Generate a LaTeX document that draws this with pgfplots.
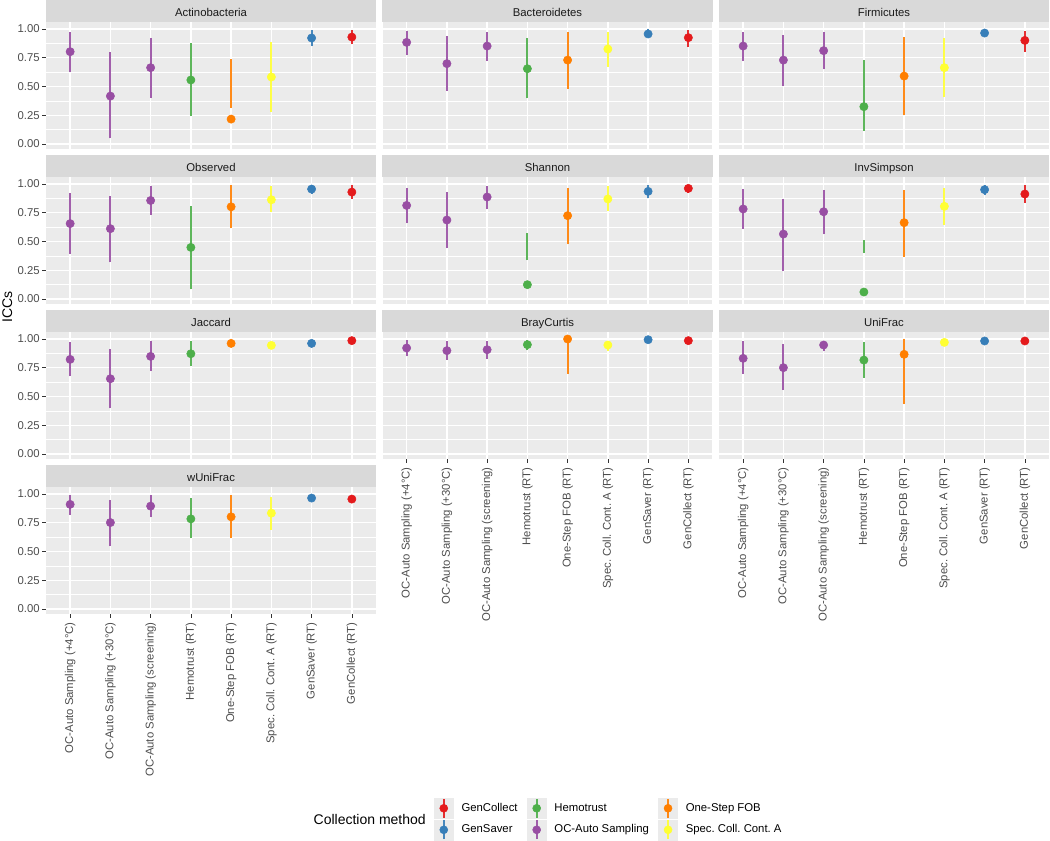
\documentclass[border=0pt]{standalone}
\usepackage{pgfplots}
\usepackage{pgfplotstable}
\pgfplotsset{compat=1.18}
\usepackage{fontspec}
\setmainfont{Liberation Sans}
\frenchspacing

\definecolor{ggbg}{HTML}{EBEBEB}
\definecolor{gg85}{HTML}{D9D9D9}
\definecolor{gg10}{HTML}{1A1A1A}
\definecolor{gg20}{HTML}{333333}
\definecolor{gg30}{HTML}{4D4D4D}
\definecolor{c1}{HTML}{984EA3}
\definecolor{c2}{HTML}{984EA3}
\definecolor{c3}{HTML}{984EA3}
\definecolor{c4}{HTML}{4DAF4A}
\definecolor{c5}{HTML}{FF7F00}
\definecolor{c6}{HTML}{FFFF33}
\definecolor{c7}{HTML}{377EB8}
\definecolor{c8}{HTML}{E41A1C}

% columns: x y lo hi
\pgfplotstableread{
x y lo hi
1 0.803 0.629 0.971
2 0.417 0.049 0.797
3 0.664 0.403 0.919
4 0.557 0.243 0.875
5 0.217 0.316 0.736
6 0.583 0.281 0.890
7 0.922 0.852 0.991
8 0.930 0.867 0.991
}\tActino
\pgfplotstableread{
x y lo hi
1 0.884 0.771 0.986
2 0.699 0.464 0.939
3 0.852 0.722 0.977
4 0.655 0.397 0.919
5 0.730 0.478 0.971
6 0.826 0.672 0.971
7 0.957 0.933 1.000
8 0.925 0.846 0.991
}\tBactero
\pgfplotstableread{
x y lo hi
1 0.852 0.722 0.977
2 0.730 0.501 0.948
3 0.812 0.649 0.971
4 0.325 0.116 0.728
5 0.591 0.252 0.930
6 0.664 0.406 0.919
7 0.965 0.942 0.997
8 0.901 0.803 0.986
}\tFirmi
\pgfplotstableread{
x y lo hi
1 0.656 0.394 0.921
2 0.612 0.318 0.895
3 0.857 0.732 0.980
4 0.449 0.085 0.813
5 0.802 0.615 0.988
6 0.863 0.755 0.983
7 0.956 0.913 0.988
8 0.930 0.872 0.994
}\tObserved
\pgfplotstableread{
x y lo hi
1 0.814 0.658 0.968
2 0.687 0.441 0.928
3 0.887 0.780 0.986
4 0.125 0.339 0.571
5 0.725 0.475 0.968
6 0.870 0.765 0.986
7 0.936 0.875 0.991
8 0.962 0.922 0.991
}\tShannon
\pgfplotstableread{
x y lo hi
1 0.783 0.612 0.959
2 0.565 0.246 0.870
3 0.759 0.562 0.951
4 0.061 0.400 0.516
5 0.664 0.368 0.951
6 0.806 0.646 0.965
7 0.951 0.904 0.991
8 0.913 0.838 0.991
}\tInvSimpson
\pgfplotstableread{
x y lo hi
1 0.823 0.675 0.971
2 0.655 0.397 0.913
3 0.849 0.722 0.980
4 0.872 0.762 0.986
5 0.962 0.955 0.970
6 0.945 0.935 0.955
7 0.962 0.955 0.970
8 0.986 0.980 0.992
}\tJaccard
\pgfplotstableread{
x y lo hi
1 0.922 0.849 0.994
2 0.899 0.820 0.986
3 0.907 0.826 0.986
4 0.951 0.901 0.991
5 1.000 0.696 1.005
6 0.948 0.893 0.980
7 0.994 0.988 1.000
8 0.986 0.980 0.992
}\tBray
\pgfplotstableread{
x y lo hi
1 0.832 0.696 0.980
2 0.751 0.557 0.957
3 0.948 0.893 0.986
4 0.817 0.664 0.971
5 0.867 0.435 1.000
6 0.971 0.965 0.977
7 0.983 0.977 0.989
8 0.983 0.977 0.989
}\tUniFrac
\pgfplotstableread{
x y lo hi
1 0.910 0.819 0.988
2 0.752 0.548 0.948
3 0.895 0.796 0.988
4 0.784 0.615 0.962
5 0.802 0.615 0.988
6 0.834 0.688 0.971
7 0.965 0.958 0.972
8 0.956 0.935 0.977
}\twUniFrac

\newcommand{\smallfont}{\fontsize{8.5}{10}\selectfont}
\newcommand{\bigfont}{\fontsize{10.5}{12.5}\selectfont}

\pgfplotsset{
  panel/.style={
    scale only axis, width=247.5pt, height=95.25pt, anchor=north west,
    xmin=0.4, xmax=8.6, ymin=-0.043, ymax=1.061,
    xtick={1,2,3,4,5,6,7,8}, ytick={0,0.25,0.5,0.75,1},
    minor ytick={0.125,0.375,0.625,0.875},
    xmajorgrids, ymajorgrids, yminorgrids,
    major grid style={white, line width=1pt},
    minor grid style={white, line width=0.5pt},
    axis background/.style={fill=ggbg},
    axis line style={draw=none},
    tick align=outside, tick pos=left,
    major tick length=2.75pt, minor tick length=0pt,
    xticklabels={}, yticklabels={},
    xtick style={draw=none}, ytick style={draw=none},
    every axis title/.style={at={(0.5,1)}, anchor=south, fill=gg85,
      minimum width=247.5pt, minimum height=16.5pt, inner sep=0pt,
      text height=9.8pt, text depth=1.8pt,
      font=\smallfont, text=gg10},
  },
  ylab/.style={
    ytick style={draw=gg20, line width=0.5pt},
    yticklabels={0.00,0.25,0.50,0.75,1.00},
    yticklabel style={font=\smallfont, text=gg30, xshift=1.5pt},
  },
  xlab/.style={
    xtick style={draw=gg20, line width=0.5pt},
    xticklabels={OC-Auto Sampling (+4°C),OC-Auto Sampling (+30°C),OC-Auto Sampling (screening),Hemotrust (RT),One-Step FOB (RT),Spec. Coll. Cont. A (RT),GenSaver (RT),GenCollect (RT)},
    xticklabel style={rotate=90, anchor=east, font=\smallfont, text=gg30},
  },
  legkey/.style={color=#1, legend image code/.code={
      \fill[ggbg] (0pt,-7.5pt) rectangle (14.25pt,7.5pt);
      \draw[#1, line width=1.4pt, draw opacity=0.9] (7.125pt,-7pt) -- (7.125pt,7pt);
      \fill[#1] (7.125pt,0pt) circle (3pt);
  }},
}

\newcommand{\panel}[5]{%
\begin{axis}[panel, at={(#1,#2)}, title={#3}, #5]
\pgfplotsinvokeforeach{1,...,8}{
  \addplot[forget plot, draw=none, mark=none,
    restrict x to domain=##1:##1,
    error bars/.cd, y dir=plus, y explicit, error mark=none,
    error bar style={draw=c##1, draw opacity=0.9, line width=1.4pt}]
    table[x=x, y=lo, y error expr=\thisrow{hi}-\thisrow{lo}] {#4};
  \addplot[forget plot, only marks, mark=*, mark size=3.1pt,
    restrict x to domain=##1:##1,
    mark options={draw=c##1, fill=c##1}]
    table[x=x, y=y] {#4};
}
\end{axis}}

\begin{document}
\begin{tikzpicture}
\useasboundingbox (0pt,0pt) rectangle (787.5pt,-630pt);

\panel{34.5pt}{-16.5pt}{Actinobacteria}{\tActino}{ylab}
\panel{286.875pt}{-16.5pt}{Bacteroidetes}{\tBactero}{}
\panel{539.25pt}{-16.5pt}{Firmicutes}{\tFirmi}{}
\panel{34.5pt}{-132.75pt}{Observed}{\tObserved}{ylab}
\panel{286.875pt}{-132.75pt}{Shannon}{\tShannon}{}
\panel{539.25pt}{-132.75pt}{InvSimpson}{\tInvSimpson}{}
\panel{34.5pt}{-249pt}{Jaccard}{\tJaccard}{ylab}
\panel{286.875pt}{-249pt}{BrayCurtis}{\tBray}{xlab}
\panel{539.25pt}{-249pt}{UniFrac}{\tUniFrac}{xlab}
\panel{34.5pt}{-365.25pt}{wUniFrac}{\twUniFrac}{ylab,xlab}

\node[rotate=90, font=\bigfont, inner sep=0pt] at (5.5pt,-230.25pt) {ICCs};

\begin{axis}[hide axis, clip=false, scale only axis, width=100pt, height=31.5pt,
  at={(325.5pt,-598.5pt)}, anchor=north west,
  xmin=0, xmax=1, ymin=0, ymax=1,
  legend columns=3, legend cell align=left,
  legend style={at={(0,1)}, anchor=north west, draw=none, fill=none,
    inner sep=0pt, outer sep=0pt, row sep=0.75pt, font=\smallfont,
    nodes={inner xsep=0pt, inner ysep=0pt},
    /tikz/every odd column/.append style={column sep=6pt},
    /tikz/every even column/.append style={column sep=7pt}}]
\addlegendimage{legkey=c8}\addlegendentry{GenCollect}
\addlegendimage{legkey=c4}\addlegendentry{Hemotrust}
\addlegendimage{legkey=c5}\addlegendentry{One-Step FOB}
\addlegendimage{legkey=c7}\addlegendentry{GenSaver}
\addlegendimage{legkey=c1}\addlegendentry{OC-Auto Sampling}
\addlegendimage{legkey=c6}\addlegendentry{Spec. Coll. Cont. A}
\node[anchor=east, font=\bigfont, inner sep=0pt, xshift=-6pt] at (rel axis cs:0,0.5) {Collection method};
\end{axis}
\end{tikzpicture}
\end{document}
